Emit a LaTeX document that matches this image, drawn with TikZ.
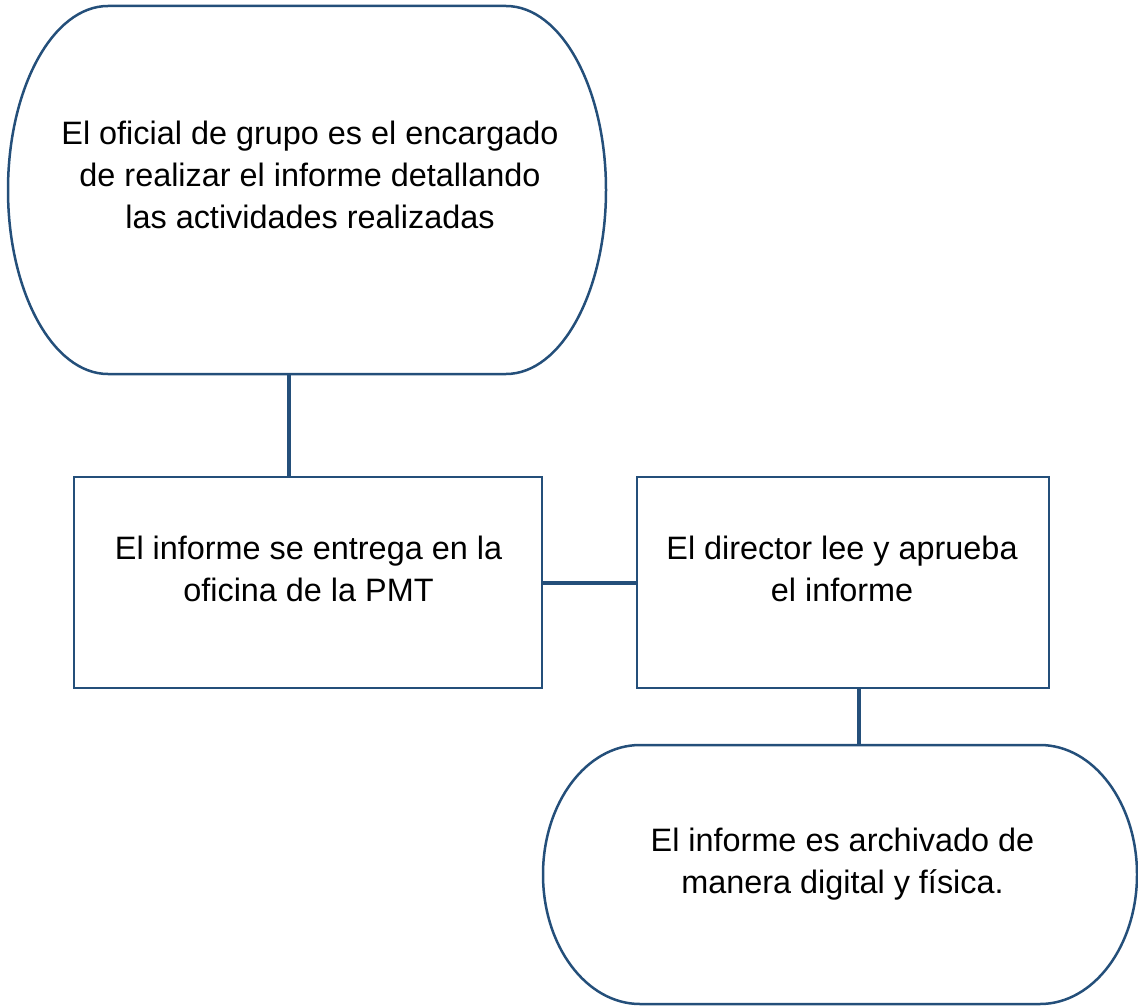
\documentclass[tikz,border=0pt]{standalone}
\usepackage{fontspec}
\setmainfont{Liberation Sans}
\definecolor{lineblue}{RGB}{36,79,122}
\begin{document}
\begin{tikzpicture}[x=1pt,y=1pt,
  outline/.style={draw=lineblue, line width=2.5pt},
  conn/.style={draw=lineblue, line width=4pt},
  holder/.style={shape=rectangle, draw=none, inner sep=0pt, outer sep=0pt},
  procbox/.style={shape=rectangle, outline, inner sep=0pt, outer sep=0pt},
  txt/.style={align=center, inner sep=0pt, font=\fontsize{32.4}{42}\selectfont, text=black}]
\path[use as bounding box] (0,0) rectangle (1138,-1006);
% shapes
\node[holder, minimum width=598pt, minimum height=368pt] (t1) at (307,-190) {};
\node[procbox, minimum width=468pt, minimum height=211pt] (b1) at (308,-582.5) {};
\node[procbox, minimum width=412pt, minimum height=211pt] (b2) at (843,-582.5) {};
\node[holder, minimum width=594pt, minimum height=259pt] (t2) at (840,-874.5) {};
% terminator outlines
\draw[outline] ([xshift=100pt]t1.north west) -- ([xshift=-100pt]t1.north east)
  arc[start angle=90, end angle=-90, x radius=100pt, y radius=184pt]
  -- ([xshift=100pt]t1.south west)
  arc[start angle=270, end angle=90, x radius=100pt, y radius=184pt] -- cycle;
\draw[outline] ([xshift=97pt]t2.north west) -- ([xshift=-97pt]t2.north east)
  arc[start angle=90, end angle=-90, x radius=97pt, y radius=129.5pt]
  -- ([xshift=97pt]t2.south west)
  arc[start angle=270, end angle=90, x radius=97pt, y radius=129.5pt] -- cycle;
% texts
\node[txt] (t1txt) at (310,-174.5) {El oficial de grupo es el encargado\\de realizar el informe detallando\\las actividades realizadas};
\node[txt] (b1txt) at (308.5,-568.5) {El informe se entrega en la\\oficina de la PMT};
\node[txt] (b2txt) at (842,-568.5) {El director lee y aprueba\\el informe};
\node[txt] (t2txt) at (842.5,-864) {El informe es archivado de\\manera digital y física.};
% connectors
\draw[conn] ([xshift=-19pt]b1.north) -- ([xshift=-19pt]b1.north |- t1.south);
\draw[conn] (b1.east) -- (b2.west);
\draw[conn] ([xshift=16pt]b2.south) -- ([xshift=16pt]b2.south |- t2.north);
\end{tikzpicture}
\end{document}
